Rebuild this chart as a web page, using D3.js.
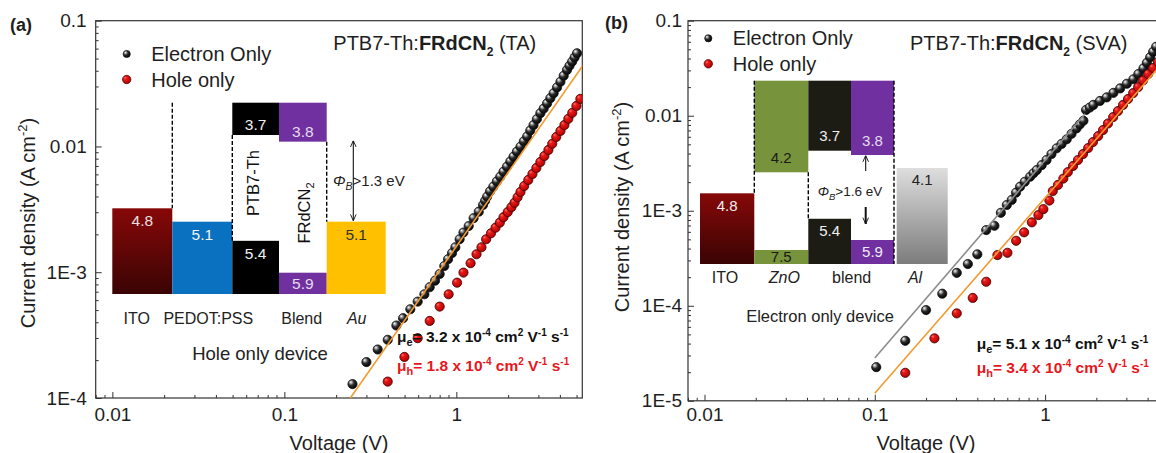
<!DOCTYPE html>
<html><head><meta charset="utf-8">
<script src="https://cdn.jsdelivr.net/npm/d3@7"></script>
<style>
body{margin:0;background:#fff}
svg{display:block;font-family:"Liberation Sans",Arial,sans-serif}
</style></head><body>
<svg id="c" width="1156" height="453"></svg>
<script>
// ---------------- DATA ----------------
const voltageTicks = [0.01, 0.1, 1];
const voltageTickLabels = ["0.01", "0.1", "1"];
const currentTicksA = [1e-4, 1e-3, 1e-2, 1e-1];
const currentTickLabelsA = ["1E-4", "1E-3", "0.01", "0.1"];
const currentTicksB = [1e-5, 1e-4, 1e-3, 1e-2, 1e-1];
const currentTickLabelsB = ["1E-5", "1E-4", "1E-3", "0.01", "0.1"];
const seriesNames = ["Electron Only", "Hole only"];

// Panel (a) TA
const aElecV = [0.249,0.300,0.349,0.399,0.448,0.490,0.540,0.596,0.652,0.700,0.752,0.800,0.851,0.895,0.944,0.987,1.045,1.10,1.18,1.26,1.35,
  1.43,1.47,1.51,1.57,1.64,1.72,1.80,1.88,1.97,2.06,2.15,2.25,2.36,2.47,2.58,2.69,2.81,2.94,3.08,3.22,3.37,3.52,3.68,3.85,4.03,4.21,4.40,4.55,4.71,4.87,5.03];
const aElecJ = [1.29e-4,1.93e-4,2.43e-4,2.90e-4,3.77e-4,4.31e-4,5.08e-4,5.84e-4,6.68e-4,7.60e-4,8.57e-4,9.68e-4,1.12e-3,1.27e-3,1.42e-3,1.58e-3,1.83e-3,2.07e-3,2.33e-3,2.69e-3,3.03e-3,
  3.43e-3,3.70e-3,3.99e-3,4.40e-3,4.79e-3,5.28e-3,5.75e-3,6.30e-3,6.91e-3,7.60e-3,8.30e-3,9.10e-3,9.96e-3,1.10e-2,1.20e-2,1.34e-2,1.48e-2,1.65e-2,1.84e-2,2.00e-2,2.20e-2,2.42e-2,2.65e-2,2.95e-2,3.27e-2,3.65e-2,4.06e-2,4.38e-2,4.72e-2,5.10e-2,5.51e-2];
const aHoleV = [0.399,0.499,0.596,0.700,0.800,0.902,1.01,1.10,1.21,1.31,1.40,1.49,1.59,1.69,1.79,1.88,1.99,2.09,2.18,2.27,2.36,2.48,2.62,2.77,2.92,3.08,3.25,3.43,3.61,3.81,4.03,4.25,4.48,4.72,4.99,5.26];
const aHoleJ = [1.35e-4,2.12e-4,2.99e-4,4.10e-4,5.33e-4,6.68e-4,8.26e-4,9.93e-4,1.18e-3,1.39e-3,1.58e-3,1.83e-3,2.04e-3,2.26e-3,2.48e-3,2.74e-3,3.01e-3,3.29e-3,3.57e-3,3.95e-3,4.35e-3,4.85e-3,5.42e-3,6.04e-3,6.75e-3,7.53e-3,8.40e-3,9.38e-3,1.05e-2,1.19e-2,1.33e-2,1.48e-2,1.66e-2,1.85e-2,2.10e-2,2.39e-2];
const aFitV = [0.242, 5.47];
const aFitJ = [1.0e-4, 4.45e-2];

// Panel (b) SVA
const bElecV = [0.102,0.151,0.200,0.249,0.303,0.352,0.400,0.451,0.504,0.550,0.596,0.637,0.675,0.713,0.76,0.817,0.855,0.894,0.955,1.02,1.09,1.17,1.25,1.34,1.43,1.53,1.60,1.68,1.74,1.83,1.92,2.10,2.30,2.52,2.76,3.02,3.30,3.53,3.78,3.96,4.14,4.31,4.49];
const bElecJ = [2.26e-5,4.28e-5,9.01e-5,1.34e-4,2.22e-4,2.75e-4,3.48e-4,6.26e-4,6.95e-4,9.52e-4,1.15e-3,1.30e-3,1.55e-3,1.79e-3,2.02e-3,2.28e-3,2.48e-3,2.68e-3,3.02e-3,3.42e-3,3.95e-3,4.54e-3,5.05e-3,5.65e-3,6.45e-3,7.36e-3,8.10e-3,8.86e-3,1.15e-2,1.22e-2,1.30e-2,1.43e-2,1.56e-2,1.74e-2,1.94e-2,2.17e-2,2.42e-2,2.75e-2,3.15e-2,3.60e-2,4.12e-2,4.70e-2,5.32e-2];
const bHoleV = [0.151,0.224,0.303,0.376,0.451,0.525,0.601,0.676,0.753,0.836,0.914,0.977,1.06,1.11,1.19,1.28,1.36,1.46,1.56,1.67,1.79,1.91,2.05,2.19,2.34,2.51,2.68,2.87,3.07,3.29,3.52,3.76,4.03,4.31,4.60];
const bHoleJ = [1.97e-5,4.54e-5,8.32e-5,1.21e-4,1.79e-4,3.42e-4,3.61e-4,4.83e-4,5.93e-4,7.55e-4,9.01e-4,1.04e-3,1.28e-3,1.61e-3,1.87e-3,2.18e-3,2.55e-3,2.96e-3,3.42e-3,3.95e-3,4.57e-3,5.28e-3,6.11e-3,7.07e-3,8.28e-3,9.68e-3,1.12e-2,1.30e-2,1.50e-2,1.73e-2,2.00e-2,2.35e-2,2.75e-2,3.18e-2,3.67e-2];
const bElecFitV = [0.1, 1.72];
const bElecFitJ = [2.82e-5, 1.05e-2];
const bHoleFitV = [0.1, 4.49];
const bHoleFitJ = [1.2e-5, 3.0e-2];

// Energy-level insets (eV)
const insetALevels = [4.8, 5.1, 3.7, 5.4, 3.8, 5.9, 5.1];
const insetALevelLabels = ["4.8","5.1","3.7","5.4","3.8","5.9","5.1"];
const insetALayerNames = ["ITO", "PEDOT:PSS", "Blend", "Au"];
const insetABarrier = [3.8, 5.1];
const insetBLevels = [4.8, 4.2, 7.5, 3.7, 5.4, 3.8, 5.9, 4.1];
const insetBLevelLabels = ["4.8","4.2","7.5","3.7","5.4","3.8","5.9","4.1"];
const insetBLayerNames = ["ITO", "ZnO", "blend", "Al"];

// ---------------- RENDER ----------------
const svg = d3.select("#c");
const defs = svg.append("defs");
function radial(id, stops){
  const g = defs.append("radialGradient").attr("id", id).attr("cx","40%").attr("cy","38%").attr("r","65%").attr("fx","30%").attr("fy","28%");
  stops.forEach(s => g.append("stop").attr("offset", s[0]).attr("stop-color", s[1]));
}
function vlinear(id, c1, c2){
  const g = defs.append("linearGradient").attr("id", id).attr("x1",0).attr("y1",0).attr("x2",0).attr("y2",1);
  g.append("stop").attr("offset",0).attr("stop-color",c1);
  g.append("stop").attr("offset",1).attr("stop-color",c2);
}
radial("gBlack", [[0,"#ffffff"],[0.18,"#b0b0b0"],[0.5,"#2a2a2a"],[1,"#000"]]);
radial("gRed", [[0,"#ff7a6a"],[0.28,"#ea1a1a"],[1,"#b00000"]]);
vlinear("gITO", "#870808", "#3a0404");
vlinear("gAl", "#dedede", "#7c7c7c");
const mk = defs.append("marker").attr("id","arr").attr("viewBox","0 0 10 10").attr("refX",10).attr("refY",5)
  .attr("markerWidth",7).attr("markerHeight",7).attr("markerUnits","userSpaceOnUse").attr("orient","auto-start-reverse");
mk.append("path").attr("d","M1,1 L10,5 L1,9").attr("fill","none").attr("stroke","#111").attr("stroke-width",1.3);

const TXT = "#1e1e1e";
const vDomain = [0.008, 5.4];

function minors(domain){
  const out = [];
  const e0 = Math.floor(Math.log10(domain[0])), e1 = Math.ceil(Math.log10(domain[1]));
  for (let e = e0; e <= e1; e++) for (let m = 2; m <= 9; m++) {
    const v = m * Math.pow(10, e);
    if (v >= domain[0] && v <= domain[1]) out.push(v);
  }
  return out;
}

function panel(o){
  const x = d3.scaleLog().domain(vDomain).range([o.left, o.right]);
  const y = d3.scaleLog().domain(o.jDomain).range([o.bottom, o.top]);
  const g = svg.append("g");
  const cid = "clip" + o.id;
  defs.append("clipPath").attr("id", cid).append("rect")
    .attr("x", o.left).attr("y", o.top).attr("width", o.right - o.left).attr("height", o.bottom - o.top);

  const styleAxis = s => {
    s.select(".domain").remove();
    s.selectAll("line").attr("stroke", "#333");
    s.selectAll("text").attr("font-size", "19px").attr("fill", TXT).attr("font-family", '"Liberation Sans",Arial,sans-serif');
  };
  g.append("g").attr("transform", `translate(0,${o.bottom})`)
    .call(d3.axisBottom(x).tickValues(minors(vDomain)).tickSize(-3).tickFormat("")).call(styleAxis);
  g.append("g").attr("transform", `translate(0,${o.bottom})`)
    .call(d3.axisBottom(x).tickValues(voltageTicks).tickFormat((d,i)=>voltageTickLabels[i]).tickSizeInner(-6).tickSizeOuter(0).tickPadding(o.xPad))
    .call(styleAxis);
  g.append("g").attr("transform", `translate(${o.left},0)`)
    .call(d3.axisLeft(y).tickValues(minors(o.jDomain)).tickSize(-3).tickFormat("")).call(styleAxis);
  g.append("g").attr("transform", `translate(${o.left},0)`)
    .call(d3.axisLeft(y).tickValues(o.jTicks).tickFormat((d,i)=>o.jLabels[i]).tickSizeInner(-6).tickSizeOuter(0).tickPadding(o.yPad))
    .call(styleAxis);

  g.append("rect").attr("x", o.left).attr("y", o.top).attr("width", o.right - o.left).attr("height", o.bottom - o.top)
    .attr("fill", "none").attr("stroke", "#333").attr("stroke-width", 1.2);

  const plot = g.append("g").attr("clip-path", `url(#${cid})`);
  const pts = (V, J, fill, stroke) => plot.append("g").selectAll("circle").data(d3.zip(V, J)).join("circle")
    .attr("cx", d => x(d[0])).attr("cy", d => y(d[1])).attr("r", 4.6)
    .attr("fill", fill).attr("stroke", stroke).attr("stroke-width", 0.8);
  const line = d3.line().x(d => x(d[0])).y(d => y(d[1]));
  pts(o.elecV, o.elecJ, "url(#gBlack)", "#111");
  pts(o.holeV, o.holeJ, "url(#gRed)", "#3a0000");
  o.fits.forEach(f => plot.append("path").datum(d3.zip(f.V, f.J)).attr("d", line)
    .attr("fill", "none").attr("stroke", f.color).attr("stroke-width", 1.6));

  // axis titles
  g.append("text").attr("x", o.xTitleX).attr("y", 449.5).attr("text-anchor", "middle")
    .attr("font-size", "20px").attr("fill", TXT).text("Voltage (V)");
  const yt = g.append("text").attr("transform", `translate(${o.yTitleX},${o.yTitleY}) rotate(-90)`)
    .attr("text-anchor", "middle").attr("dy", "0.35em").attr("font-size", "20px").attr("fill", TXT);
  yt.append("tspan").text("Current density (A cm");
  yt.append("tspan").attr("dy", -8).attr("font-size", "13px").text("-2");
  yt.append("tspan").attr("dy", 8).text(")");

  g.append("text").attr("x", o.tagX).attr("y", o.tagY).attr("font-size", "18px").attr("font-weight", "bold")
    .attr("fill", TXT).text(o.tag);

  // legend
  const lg = g.append("g");
  [["url(#gBlack)","#111",3.6],["url(#gRed)","#3a0000",4.2]].forEach((s, i) => {
    lg.append("circle").attr("cx", o.legX).attr("cy", o.legY + i * 25.5).attr("r", s[2]).attr("fill", s[0]).attr("stroke", s[1]).attr("stroke-width", 0.7);
    lg.append("text").attr("x", o.legX + 24.5).attr("y", o.legY + i * 25.5 + 7).attr("font-size", "20px").attr("fill", TXT).text(seriesNames[i]);
  });

  // title
  const t = g.append("text").attr("x", o.titleX).attr("y", 49.5).attr("font-size", "20px").attr("fill", TXT);
  t.append("tspan").text("PTB7-Th:");
  t.append("tspan").attr("font-weight", "bold").text("FRdCN");
  t.append("tspan").attr("font-weight", "bold").attr("font-size", "12px").attr("dy", 6).text("2");
  t.append("tspan").attr("dy", -6).text(" " + o.cond);

  // mobilities
  o.mob.forEach((m, i) => {
    const tx = g.append("text").attr("x", o.mobX).attr("y", o.mobY[i]).attr("font-size", "15.5px")
      .attr("font-weight", "bold").attr("fill", m.color);
    tx.append("tspan").text("μ");
    tx.append("tspan").attr("font-size", "11px").attr("dy", 4).text(m.sub);
    tx.append("tspan").attr("dy", -4).text("= " + m.val + " x 10");
    tx.append("tspan").attr("font-size", "10px").attr("dy", -6).text("-4");
    tx.append("tspan").attr("dy", 6).text(" cm");
    tx.append("tspan").attr("font-size", "10px").attr("dy", -6).text("2");
    tx.append("tspan").attr("dy", 6).text(" V");
    tx.append("tspan").attr("font-size", "10px").attr("dy", -6).text("-1");
    tx.append("tspan").attr("dy", 6).text(" s");
    tx.append("tspan").attr("font-size", "10px").attr("dy", -6).text("-1");
  });
  return g;
}

panel({id:"A", left:95.7, right:582.3, top:20.7, bottom:398, jDomain:[1e-4, 0.1],
  jTicks: currentTicksA, jLabels: currentTickLabelsA, xPad:10, yPad:9,
  elecV:aElecV, elecJ:aElecJ, holeV:aHoleV, holeJ:aHoleJ,
  fits:[{V:aFitV, J:aFitJ, color:"#f39a2e"}],
  xTitleX:339, yTitleX:28, yTitleY:223, tag:"(a)", tagX:10, tagY:31,
  legX:126.7, legY:54, titleX:333.3, cond:"(TA)",
  mobX:397, mobY:[342, 371],
  mob:[{sub:"e", val:"3.2", color:"#111"}, {sub:"h", val:"1.8", color:"#e8161c"}]});

panel({id:"B", left:688, right:1169.8, top:20.7, bottom:400.8, jDomain:[1e-5, 0.1],
  jTicks: currentTicksB, jLabels: currentTickLabelsB, xPad:7, yPad:6,
  elecV:bElecV, elecJ:bElecJ, holeV:bHoleV, holeJ:bHoleJ,
  fits:[{V:bElecFitV, J:bElecFitJ, color:"#8c8c8c"}, {V:bHoleFitV, J:bHoleFitJ, color:"#f39a2e"}],
  xTitleX:926, yTitleX:622, yTitleY:207, tag:"(b)", tagX:605, tagY:29,
  legX:708.3, legY:38.3, titleX:910, cond:"(SVA)",
  mobX:976.7, mobY:[349, 373],
  mob:[{sub:"e", val:"5.1", color:"#111"}, {sub:"h", val:"3.4", color:"#e8161c"}]});

// ---------------- INSETS ----------------
function dashed(g, x, y1, y2){
  g.append("line").attr("x1", x).attr("x2", x).attr("y1", y1).attr("y2", y2)
    .attr("stroke", "#000").attr("stroke-width", 1.4).attr("stroke-dasharray", "4,2");
}
function boxes(g, spec, levels, labels, eY, ceil, floor, lumoOff, homoOff){
  spec.forEach((s, i) => {
    const yE = eY(levels[i]);
    const y0 = s.lumo ? ceil : yE, y1 = s.lumo ? yE : floor;
    g.append("rect").attr("x", s.x0).attr("y", y0).attr("width", s.x1 - s.x0).attr("height", y1 - y0).attr("fill", s.fill);
    const ty = s.lumo ? yE - lumoOff : yE + Math.min(homoOff, (floor - yE) / 2);
    g.append("text").attr("x", (s.x0 + s.x1) / 2).attr("y", ty).attr("dy", "0.35em").attr("text-anchor", "middle")
      .attr("font-size", s.fs + "px").attr("fill", s.tc).text(labels[i]);
  });
}

// Inset (a): hole only device
(function(){
  const g = svg.append("g");
  const eY = d3.scaleLinear().domain([3.7, 4.8, 5.1, 5.9]).range([135, 208.3, 221.7, 272.7]);
  const ceil = 102.7, floor = 294;
  const c = [112.3, 172.3, 232.3, 279, 326.7, 385.7];
  const spec = [
    {x0:c[0], x1:c[1], lumo:false, fill:"url(#gITO)", tc:"#e8e0e0", fs:15.5},
    {x0:c[1], x1:c[2], lumo:false, fill:"#0a70c0", tc:"#f4f4f4", fs:15.5},
    {x0:c[2], x1:c[3], lumo:true,  fill:"#000", tc:"#f0f0f0", fs:15.5},
    {x0:c[2], x1:c[3], lumo:false, fill:"#000", tc:"#f0f0f0", fs:15.5},
    {x0:c[3], x1:c[4], lumo:true,  fill:"#7030a0", tc:"#e6dcef", fs:15.5},
    {x0:c[3], x1:c[4], lumo:false, fill:"#7030a0", tc:"#e6dcef", fs:15.5},
    {x0:c[4], x1:c[5], lumo:false, fill:"#ffc000", tc:"#333", fs:15.5}];
  boxes(g, spec, insetALevels, insetALevelLabels, eY, ceil, floor, 10.5, 12.5);
  dashed(g, c[1], ceil, eY(4.8));
  dashed(g, c[2], eY(3.7), eY(5.4));
  dashed(g, c[4], eY(3.8), eY(5.1));
  // rotated material names
  g.append("text").attr("transform", "translate(253.3,183) rotate(-90)").attr("text-anchor", "middle").attr("dy", "0.35em")
    .attr("font-size", "16.5px").attr("fill", "#111").text("PTB7-Th");
  const fr = g.append("text").attr("transform", "translate(304,213) rotate(-90)").attr("text-anchor", "middle").attr("dy", "0.35em")
    .attr("font-size", "16.5px").attr("fill", "#111");
  fr.append("tspan").text("FRdCN");
  fr.append("tspan").attr("font-size", "11px").attr("dy", 4).text("2");
  // barrier arrow
  g.append("line").attr("x1", 353.3).attr("x2", 353.3).attr("y1", eY(insetABarrier[0]) - 1).attr("y2", eY(insetABarrier[1]) - 1)
    .attr("stroke", "#111").attr("stroke-width", 1.1).attr("marker-start", "url(#arr)").attr("marker-end", "url(#arr)");
  const ph = g.append("text").attr("x", 333).attr("y", 186).attr("font-size", "15px").attr("fill", "#222");
  ph.append("tspan").attr("font-style", "italic").text("Φ");
  ph.append("tspan").attr("font-style", "italic").attr("font-size", "10.5px").attr("dy", 4).text("B");
  ph.append("tspan").attr("dy", -4).text(">" + (insetABarrier[1] - insetABarrier[0]).toFixed(1) + " eV");
  // layer labels
  const lx = [136.7, 208.3, 301.7, 356.7];
  insetALayerNames.forEach((n, i) => g.append("text").attr("x", lx[i]).attr("y", 324).attr("text-anchor", "middle")
    .attr("font-size", "16px").attr("fill", "#222").attr("font-style", n === "Au" ? "italic" : "normal").text(n));
  g.append("text").attr("x", 260).attr("y", 360).attr("text-anchor", "middle").attr("font-size", "18.5px").attr("fill", "#222").text("Hole only device");
})();

// Inset (b): electron only device
(function(){
  const g = svg.append("g");
  const eY = d3.scaleLinear().domain([3.7, 4.2, 4.8, 5.9, 7.5]).range([150.7, 172.3, 193.3, 240, 250]);
  const ceil = 80.7, floor = 264;
  const c = [700, 754.3, 808.3, 851, 894, 896.7, 947.7];
  const spec = [
    {x0:c[0], x1:c[1], lumo:false, fill:"url(#gITO)", tc:"#eee", fs:15},
    {x0:c[1], x1:c[2], lumo:true,  fill:"#77933c", tc:"#1a1a1a", fs:15},
    {x0:c[1], x1:c[2], lumo:false, fill:"#77933c", tc:"#1a1a1a", fs:15},
    {x0:c[2], x1:c[3], lumo:true,  fill:"#1c1c15", tc:"#f0f0f0", fs:15},
    {x0:c[2], x1:c[3], lumo:false, fill:"#1c1c15", tc:"#f0f0f0", fs:15},
    {x0:c[3], x1:c[4], lumo:true,  fill:"#7030a0", tc:"#e6dcef", fs:15},
    {x0:c[3], x1:c[4], lumo:false, fill:"#7030a0", tc:"#f0eaf5", fs:15},
    {x0:c[5], x1:c[6], lumo:false, fill:"url(#gAl)", tc:"#222", fs:15}];
  boxes(g, spec, insetBLevels, insetBLevelLabels, eY, ceil, floor, 14.5, 12);
  dashed(g, c[1], ceil, eY(4.8));
  dashed(g, c[2], eY(4.2), eY(5.4));
  dashed(g, c[4], ceil, floor);
  // barrier arrows
  g.append("line").attr("x1", 865.7).attr("x2", 865.7).attr("y1", 171).attr("y2", eY(3.8) + 0.5)
    .attr("stroke", "#111").attr("stroke-width", 1.1).attr("marker-end", "url(#arr)");
  g.append("line").attr("x1", 865.7).attr("x2", 865.7).attr("y1", 207).attr("y2", 224)
    .attr("stroke", "#111").attr("stroke-width", 2).attr("marker-end", "url(#arr)");
  const ph = g.append("text").attr("x", 850).attr("y", 196).attr("text-anchor", "middle").attr("font-size", "13.5px").attr("fill", "#222");
  ph.append("tspan").attr("font-style", "italic").text("Φ");
  ph.append("tspan").attr("font-style", "italic").attr("font-size", "9.5px").attr("dy", 3.5).text("B");
  ph.append("tspan").attr("dy", -3.5).text(">1.6 eV");
  const lx = [725, 784.3, 851.7, 915];
  insetBLayerNames.forEach((n, i) => g.append("text").attr("x", lx[i]).attr("y", 282.5).attr("text-anchor", "middle")
    .attr("font-size", "16px").attr("fill", "#222").attr("font-style", (n === "ZnO" || n === "Al") ? "italic" : "normal").text(n));
  g.append("text").attr("x", 820).attr("y", 322).attr("text-anchor", "middle").attr("font-size", "16.5px").attr("fill", "#222").text("Electron only device");
})();
</script>
</body></html>
